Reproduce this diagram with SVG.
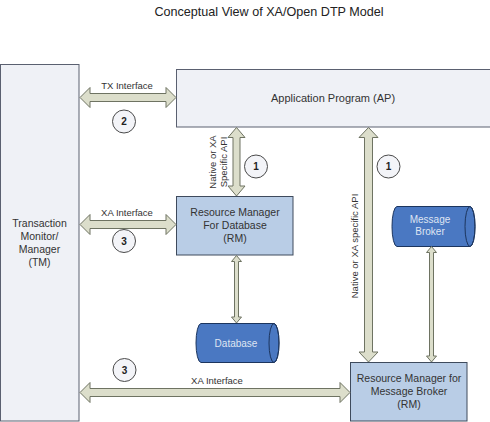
<svg xmlns="http://www.w3.org/2000/svg" width="490" height="422" viewBox="0 0 490 422">
<style>
text{font-family:"Liberation Sans",Arial,sans-serif;fill:#333;}
.title{font-size:12.6px;fill:#222;}
.lbl{font-size:9.5px;fill:#333;}
.node{font-size:10.5px;fill:#333;}
.panel{fill:#eff1f6;stroke:#5a6070;stroke-width:1;}
.rm{fill:#b9cde6;stroke:#3e4a5c;stroke-width:1;}
.cyl{fill:#4a78c2;stroke:#1c355e;stroke-width:1;}
.cyltxt{font-size:10px;fill:#dfe5f2;}
.arrow{fill:#dcdecb;stroke:#6e7362;stroke-width:1;stroke-linejoin:miter;}
.num circle{fill:#f3f4f8;stroke:#4a4a4a;stroke-width:1;}
.num text{font-size:10px;font-weight:bold;fill:#222;}
</style>
<text class="title" x="269" y="16" text-anchor="middle">Conceptual View of XA/Open DTP Model</text>

<g id="tm">
<rect class="panel" x="0.5" y="64.5" width="78.5" height="356.5"/>
<text class="node" x="39.5" text-anchor="middle"><tspan x="39.5" y="227">Transaction</tspan><tspan x="39.5" y="240">Monitor/</tspan><tspan x="39.5" y="253">Manager</tspan><tspan x="39.5" y="266">(TM)</tspan></text>
</g>

<g id="ap">
<rect class="panel" x="176.5" y="69.5" width="314" height="57.5"/>
<text x="333" y="102" text-anchor="middle" style="font-size:11px">Application Program (AP)</text>
</g>

<g id="rm-db">
<rect class="rm" x="176.5" y="196.5" width="116.5" height="58.5"/>
<text class="node" text-anchor="middle"><tspan x="235" y="216">Resource Manager</tspan><tspan x="235" y="229">For Database</tspan><tspan x="235" y="242">(RM)</tspan></text>
</g>

<g id="database">
<path class="cyl" d="M201,323.5 L274,323.5 A5,19.5 0 0 1 274,362.5 L201,362.5 A5,19.5 0 0 1 201,323.5 Z"/>
<ellipse cx="274" cy="343" rx="5" ry="19.5" fill="none" stroke="#1c355e"/>
<text class="cyltxt" x="236" y="347" text-anchor="middle">Database</text>
</g>

<g id="message-broker">
<path class="cyl" d="M397,206.5 L470,206.5 A5,20 0 0 1 470,246.5 L397,246.5 A5,20 0 0 1 397,206.5 Z"/>
<ellipse cx="470" cy="226.5" rx="5" ry="20" fill="none" stroke="#1c355e"/>
<text class="cyltxt" text-anchor="middle"><tspan x="430" y="223">Message</tspan><tspan x="430" y="235">Broker</tspan></text>
</g>

<g id="rm-mb">
<rect class="rm" x="350.5" y="362.5" width="116.5" height="58.5"/>
<text class="node" text-anchor="middle"><tspan x="409" y="382">Resource Manager for</tspan><tspan x="409" y="395">Message Broker</tspan><tspan x="409" y="408">(RM)</tspan></text>
</g>

<g id="connectors">
<path class="arrow" d="M80,97.5 L90,87.5 L90,93.5 L166,93.5 L166,87.5 L176,97.5 L166,107.5 L166,101.5 L90,101.5 L90,107.5 Z"/>
<text class="lbl" x="127" y="89" text-anchor="middle">TX Interface</text>
<path class="arrow" d="M80,224.5 L90,214.5 L90,220.5 L166,220.5 L166,214.5 L176,224.5 L166,234.5 L166,228.5 L90,228.5 L90,234.5 Z"/>
<text class="lbl" x="127" y="216" text-anchor="middle">XA Interface</text>
<path class="arrow" d="M80,392.5 L90,382.5 L90,388.5 L340,388.5 L340,382.5 L350,392.5 L340,402.5 L340,396.5 L90,396.5 L90,402.5 Z"/>
<text class="lbl" x="217" y="384" text-anchor="middle">XA Interface</text>
<path class="arrow" d="M236.5,127.5 L245,137.5 L240,137.5 L240,186 L245,186 L236.5,196 L228,186 L233,186 L233,137.5 L228,137.5 Z"/>
<text class="lbl" transform="translate(216,162) rotate(-90)" text-anchor="middle">Native or XA</text>
<text class="lbl" transform="translate(227,162) rotate(-90)" text-anchor="middle">Specific API</text>
<path class="arrow" d="M368.5,127.5 L378,137.5 L372.5,137.5 L372.5,352 L378,352 L368.5,362 L359,352 L364.5,352 L364.5,137.5 L359,137.5 Z"/>
<text class="lbl" transform="translate(358,246) rotate(-90)" text-anchor="middle">Native or XA specific API</text>
<path class="arrow" d="M236.5,255.5 L241.5,261.5 L238.5,261.5 L238.5,317 L241.5,317 L236.5,323 L231.5,317 L234.5,317 L234.5,261.5 L231.5,261.5 Z"/>
<path class="arrow" d="M431.5,246.5 L436.5,252.5 L433.5,252.5 L433.5,356 L436.5,356 L431.5,362 L426.5,356 L429.5,356 L429.5,252.5 L426.5,252.5 Z"/>
</g>

<g id="num-2" class="num"><circle cx="124" cy="121.5" r="11.5"/><text x="124" y="125" text-anchor="middle">2</text></g>
<g id="num-3a" class="num"><circle cx="124" cy="241" r="11.5"/><text x="124" y="244.5" text-anchor="middle">3</text></g>
<g id="num-3b" class="num"><circle cx="124.5" cy="370" r="11.5"/><text x="124.5" y="373.5" text-anchor="middle">3</text></g>
<g id="num-1a" class="num"><circle cx="256" cy="166.5" r="11.5"/><text x="256" y="170" text-anchor="middle">1</text></g>
<g id="num-1b" class="num"><circle cx="388.5" cy="166.5" r="11.5"/><text x="388.5" y="170" text-anchor="middle">1</text></g>
</svg>
